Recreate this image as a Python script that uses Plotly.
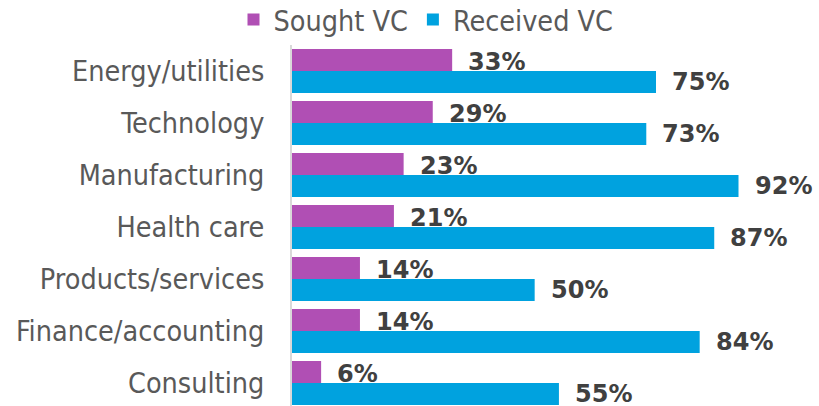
import plotly.graph_objects as go

categories = ["Energy/utilities", "Technology", "Manufacturing", "Health care",
              "Products/services", "Finance/accounting", "Consulting"]
sought_vc = [33, 29, 23, 21, 14, 14, 6]
received_vc = [75, 73, 92, 87, 50, 84, 55]
series_names = ["Sought VC", "Received VC"]

PURPLE = "#B04FB4"
BLUE = "#00A2DF"
FONT = "DejaVu Sans Condensed, DejaVu Sans, sans-serif"
LABEL_FONT = "DejaVu Sans, sans-serif"

fig = go.Figure()
fig.add_trace(go.Bar(y=categories, x=sought_vc, name=series_names[0], orientation="h",
                     marker=dict(color=PURPLE, line=dict(width=0))))
fig.add_trace(go.Bar(y=categories, x=received_vc, name=series_names[1], orientation="h",
                     marker=dict(color=BLUE, line=dict(width=0))))

annotations = []
for cat, s, r in zip(categories, sought_vc, received_vc):
    annotations.append(dict(x=s, y=cat, text=f"<b>{s}%</b>", showarrow=False,
                            xanchor="left", yanchor="middle", xshift=14, yshift=9,
                            font=dict(family=LABEL_FONT, size=24, color="#404040")))
    annotations.append(dict(x=r, y=cat, text=f"<b>{r}%</b>", showarrow=False,
                            xanchor="left", yanchor="middle", xshift=14, yshift=-11,
                            font=dict(family=LABEL_FONT, size=24, color="#404040")))

W, H = 819, 406
ml, mr, mt, mb = 292, 19, 45, 0
px_per_cat = 52.0
plot_h = H - mt - mb
px_per_pct = (656 - 292) / 75.0

fig.update_layout(
    width=W, height=H,
    margin=dict(l=ml, r=mr, t=mt, b=mb, pad=0, autoexpand=False),
    paper_bgcolor="white", plot_bgcolor="white",
    barmode="group", bargap=8 / 52, bargroupgap=0,
    font=dict(family=FONT, size=28, color="#595959"),
    annotations=annotations,
    legend=dict(orientation="h", xref="container", yref="container",
                x=426 / W, xanchor="center",
                y=1 - 20 / H, yanchor="middle",
                font=dict(family=FONT, size=28.5, color="#595959"),
                itemwidth=30, traceorder="normal", bgcolor="rgba(0,0,0,0)"),
    xaxis=dict(visible=False, range=[0, (W - ml - mr) / px_per_pct], fixedrange=True,
               automargin=False),
    yaxis=dict(type="category", categoryorder="array", categoryarray=categories,
               range=[-0.5 + plot_h / px_per_cat, -0.5], automargin=False,
               showline=True, linecolor="#D9D9D9", linewidth=2,
               showgrid=False, zeroline=False, ticks="",
               ticklabelstandoff=20,
               tickfont=dict(family=FONT, size=28.5, color="#595959")),
)

fig.write_html("out.html", config={"displayModeBar": False},
               post_script="document.body.style.margin='0';document.body.style.overflow='hidden';")
